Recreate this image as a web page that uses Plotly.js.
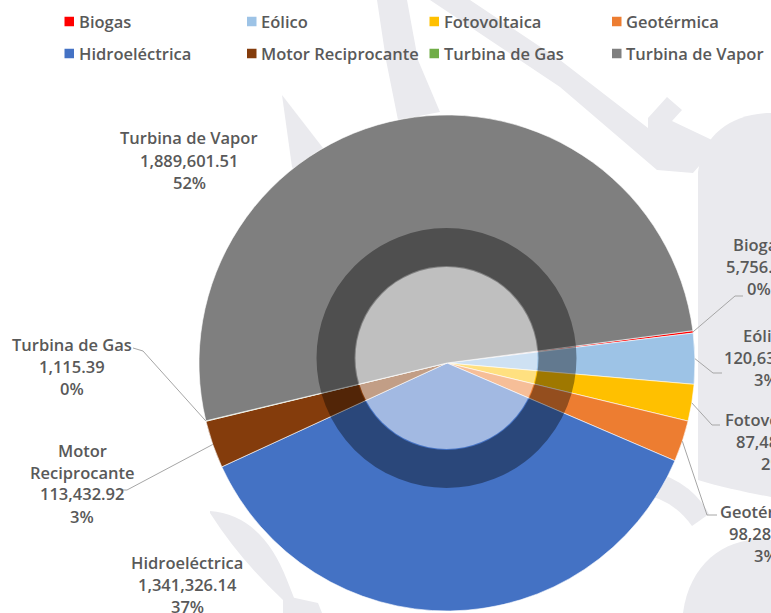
<!DOCTYPE html>
<html><head><meta charset="utf-8">
<script src="https://cdn.plot.ly/plotly-3.0.1.min.js"></script>
<style>html,body{margin:0;padding:0;background:#fff;}#chart{width:771px;height:613px;}</style>
</head><body><div id="chart"></div>
<script>
// ---- data ----
const categories = ['Biogas','Eólico','Fotovoltaica','Geotérmica','Hidroeléctrica','Motor Reciprocante','Turbina de Gas','Turbina de Vapor'];
const values = [5756.42, 120634.18, 87481.27, 98283.55, 1341326.14, 113432.92, 1115.39, 1889601.51];
const colors = ['#FF0000','#9DC3E6','#FFC000','#ED7D31','#4472C4','#843C0C','#70AD47','#7F7F7F'];

// ---- layout helpers ----
const W = 771, H = 613;
const PX = x => x / W, PY = y => 1 - y / H;
const pieGeom = {cx: 447, cy: 363, r: 248, rotation: 82.5};
const FONT = {family: 'Open Sans, sans-serif', size: 16.5, color: '#595959', weight: 600};
const LINE_H = 22;

// label placement (text centre x, first line y, leader elbow + end)
const labelPos = [
  {x: 759, y: 244, line: [[735, 296], [743, 296]]},
  {x: 766, y: 335, line: [[713, 373], [722, 373]]},
  {x: 773, y: 419, line: [[712, 425], [720, 425]]},
  {x: 766, y: 511, line: [[707, 515], [717, 515]]},
  {x: 187, y: 562},
  {x: 82, y: 450, wrap: true, line: [[127, 490], [120, 490]]},
  {x: 72, y: 344, line: [[143, 351], [133, 348]]},
  {x: 189, y: 138}
];

const total = values.reduce((a, b) => a + b, 0);
const fmt = v => v.toLocaleString('en-US', {minimumFractionDigits: 2, maximumFractionDigits: 2});

const annotations = [];
const shapes = [];

// watermark (pale logo shapes, behind the pie)
const wm = [
  'M282,95 L323,148 L300,178 L292,167 Z',
  'M377,0 L407,0 L418,60 L440,112 L398,120 L386,60 Z',
  'M430,0 L470,0 L560,60 L648,128 L648,118 L667,97 L682,110 L672,121 L712,140 L700,165 L693,173 L657,170 L560,87 Z',
  'M698,172 C703,132 735,113 771,113 L771,497 C745,492 720,487 698,480 Z',
  'M771,540 C730,535 690,560 683,613 L771,613 Z',
  'M640,468 Q690,478 709,514 L692,526 Q672,498 640,494 Z',
  'M210,511 Q262,515 287,580 L300,613 L283,613 L283,600 Q240,560 210,513 Z',
  'M286,596 L318,603 L322,613 L286,613 Z'
];
wm.forEach(p => {
  const path = p.replace(/(-?\d+\.?\d*),(-?\d+\.?\d*)/g, (m, a, b) => PX(+a).toFixed(5) + ',' + PY(+b).toFixed(5));
  shapes.push({type: 'path', xref: 'paper', yref: 'paper', path: path, fillcolor: '#EAEAEE', line: {width: 0}, layer: 'below'});
});

// centre overlay: dark ring + light disc
const oc = {x: 446.5, y: 358};
shapes.push({type: 'circle', xref: 'paper', yref: 'paper', layer: 'above',
  x0: PX(oc.x - 111), x1: PX(oc.x + 111), y0: PY(oc.y + 111), y1: PY(oc.y - 111),
  line: {color: 'rgba(0,0,0,0.375)', width: 38}, fillcolor: 'rgba(0,0,0,0)'});
shapes.push({type: 'circle', xref: 'paper', yref: 'paper', layer: 'above',
  x0: PX(oc.x - 91), x1: PX(oc.x + 91), y0: PY(oc.y + 91), y1: PY(oc.y - 91),
  line: {width: 0}, fillcolor: 'rgba(255,255,255,0.5)'});

// labels and leader lines
let cum = 0;
categories.forEach((cat, i) => {
  const v = values[i];
  const midDeg = pieGeom.rotation + 360 * (cum + v / 2) / total;
  cum += v;
  const a = midDeg * Math.PI / 180;
  const ax = pieGeom.cx + pieGeom.r * Math.sin(a);
  const ay = pieGeom.cy - pieGeom.r * Math.cos(a);
  const lp = labelPos[i];
  const lines = (lp.wrap ? cat.split(' ') : [cat]).concat([fmt(v), Math.round(v / total * 100) + '%']);
  lines.forEach((t, k) => {
    annotations.push({xref: 'paper', yref: 'paper', x: PX(lp.x), y: PY(lp.y + k * LINE_H),
      xanchor: 'center', yanchor: 'middle', text: t, showarrow: false, font: FONT});
  });
  if (lp.line) {
    const [e, f] = lp.line;
    shapes.push({type: 'path', xref: 'paper', yref: 'paper', layer: 'above',
      path: `M${PX(ax)},${PY(ay)} L${PX(e[0])},${PY(e[1])} L${PX(f[0])},${PY(f[1])}`,
      line: {color: '#A6A6A6', width: 1}});
  }
});

// legend (two rows of four)
categories.forEach((cat, i) => {
  const col = i % 4, row = Math.floor(i / 4);
  const x0 = 64.5 + col * 182.5, yc = 21.5 + row * 32;
  shapes.push({type: 'rect', xref: 'paper', yref: 'paper', layer: 'above',
    x0: PX(x0), x1: PX(x0 + 9.5), y0: PY(yc + 4.75), y1: PY(yc - 4.75),
    fillcolor: colors[i], line: {width: 0}});
  annotations.push({xref: 'paper', yref: 'paper', x: PX(x0 + 12), y: PY(yc),
    xanchor: 'left', yanchor: 'middle', text: cat, showarrow: false, font: FONT});
});

const trace = {
  type: 'pie', labels: categories, values: values, sort: false, direction: 'clockwise',
  rotation: pieGeom.rotation, textinfo: 'none', hoverinfo: 'label+value+percent',
  marker: {colors: colors, line: {color: '#FFFFFF', width: 0.6}},
  domain: {x: [PX(pieGeom.cx - pieGeom.r), PX(pieGeom.cx + pieGeom.r)],
           y: [PY(pieGeom.cy + pieGeom.r), PY(pieGeom.cy - pieGeom.r)]},
  showlegend: false
};

Plotly.newPlot('chart', [trace], {
  width: W, height: H, margin: {l: 0, r: 0, t: 0, b: 0},
  paper_bgcolor: '#FFFFFF', showlegend: false,
  shapes: shapes, annotations: annotations
}, {displayModeBar: false, staticPlot: true});
</script></body></html>
